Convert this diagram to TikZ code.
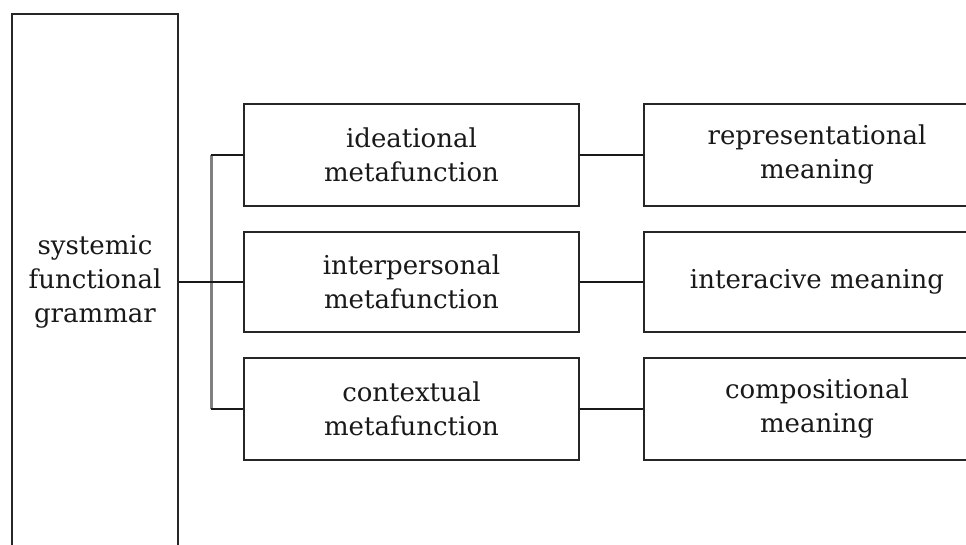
\documentclass[tikz,border=0pt]{standalone}
\usepackage{fontspec}
\setmainfont{DejaVu Serif}
\begin{document}
\begin{tikzpicture}[x=1pt,y=-1pt,
  box/.style={draw=black!85,line width=1.6pt,align=center,inner sep=0pt,
    font=\fontsize{26}{34}\selectfont,text=black!90},
  conn/.style={line width=1.5pt,black!90},
  spine/.style={line width=3pt,black!50}]
\useasboundingbox (0,0) rectangle (966,544);
\node[box,minimum width=166,minimum height=536] (sfg) at (95,282) {systemic\\functional\\grammar};
\node[box,minimum width=335,minimum height=102] (m1) at (411.5,155) {ideational\\metafunction};
\node[box,minimum width=335,minimum height=100] (m2) at (411.5,282) {interpersonal\\metafunction};
\node[box,minimum width=335,minimum height=102] (m3) at (411.5,409) {contextual\\metafunction};
\node[box,minimum width=346,minimum height=102] (r1) at (817,155) {representational\\meaning};
\node[box,minimum width=346,minimum height=100] (r2) at (817,282) {interacive meaning};
\node[box,minimum width=346,minimum height=102] (r3) at (817,409) {compositional\\meaning};
\coordinate (jt) at (211,155);
\coordinate (jm) at (211,282);
\coordinate (jb) at (211,409);
\draw[spine] (jt) -- (jb);
\draw[conn] (sfg.east |- jm) -- (jm);
\draw[conn] (jt) -- (m1.west);
\draw[conn] (jm) -- (m2.west);
\draw[conn] (jb) -- (m3.west);
\draw[conn] (m1.east) -- (r1.west);
\draw[conn] (m2.east) -- (r2.west);
\draw[conn] (m3.east) -- (r3.west);
\end{tikzpicture}
\end{document}
